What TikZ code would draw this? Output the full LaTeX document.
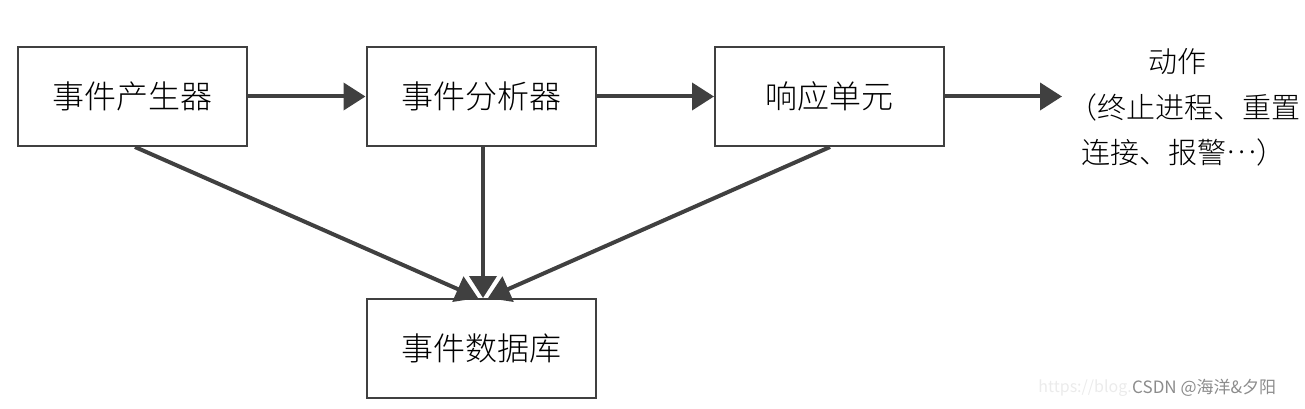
\documentclass[tikz,border=0pt]{standalone}
\usepackage{fontspec}
\usetikzlibrary{arrows.meta,calc}
\newfontfamily\song{Noto Sans CJK SC}[UprightFont=* Light]
\newfontfamily\wm{Noto Sans CJK SC}
\definecolor{dk}{HTML}{404040}
\begin{document}
\begin{tikzpicture}[x=1pt,y=-1pt,
  box/.style={draw=dk,line width=2pt,minimum width=229pt,minimum height=99pt,inner sep=0pt,font=\song\fontsize{32}{38}\selectfont},
  conn/.style={draw=dk,line width=4pt,-{Triangle[length=22pt,width=27pt]}},
  act/.style={inner sep=0pt,font=\song\fontsize{29}{34}\selectfont}]
\useasboundingbox (0,0) rectangle (1305,409);
\node[box] (b1) at (132.5,96.5) {事件产生器};
\node[box] (b2) at (481,96.5) {事件分析器};
\node[box] (b3) at (829.5,96.5) {响应单元};
\node[box] (b4) at (481,348) {事件数据库};
\node[act] (a1) at (1177,62) {动作};
\node[act,anchor=west] (a2) at (1068,107) {（终止进程、重置};
\node[act,anchor=west] (a3) at (1081,152) {连接、报警\raisebox{0.32em}{…}）};
\coordinate (out) at (1062,96.5);
\coordinate (l1) at (135,147);
\coordinate (r1) at (830,147);
\coordinate (t1) at (478,298);
\coordinate (t2) at (483,298);
\coordinate (t3) at (488,298);
\draw[conn] (b1.east) -- (b2.west);
\draw[conn] (b2.east) -- (b3.west);
\draw[conn] (b3.east) -- (out);
\draw[conn] (l1) -- (t1);
\draw[conn] (b2.south -| t2) -- (t2);
\draw[conn] (r1) -- (t3);
\node[anchor=east,inner sep=0pt,text=black!8,font=\wm\fontsize{16}{18}\selectfont] (w0) at (1132,388) {https://blog.};
\node[anchor=west,inner sep=0pt,text=black!45,font=\wm\fontsize{17}{19}\selectfont] (w1) at (1132,388) {CSDN @海洋\&夕阳};
\end{tikzpicture}
\end{document}
